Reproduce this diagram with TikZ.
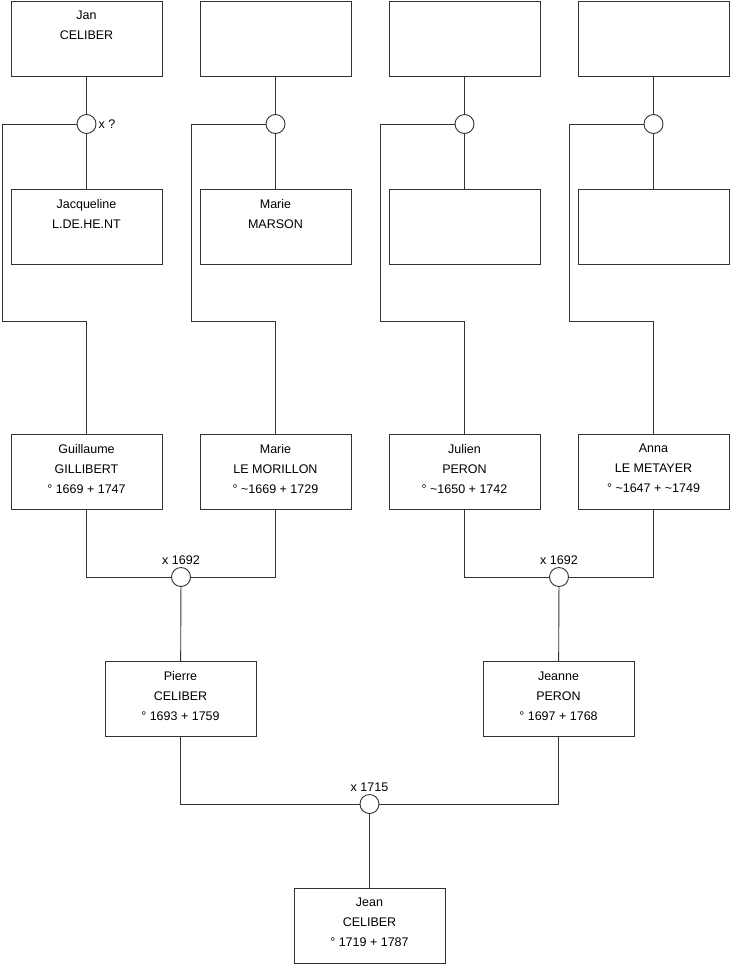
\documentclass[tikz,border=0pt]{standalone}
\usepackage{fontspec}
\setmainfont{Liberation Sans}
\usetikzlibrary{positioning}

\begin{document}
\begin{tikzpicture}[
    x=1pt, y=-1pt,
    person/.style={rectangle, draw=black!80, line width=0.9pt, minimum width=151pt, minimum height=75pt,
        inner sep=0pt, outer sep=0pt, align=center, font=\fontsize{12.5}{20}\selectfont},
    union/.style={circle, draw=black!80, line width=0.9pt, fill=white, minimum size=19pt, inner sep=0pt},
    tag/.style={font=\fontsize{12.5}{14}\selectfont, inner sep=1pt},
    link/.style={draw=black!80, line width=0.9pt}
]
\useasboundingbox (0,0) rectangle (740,975);

% great-grandparents
\node[person] (fa1) at (86.5,38.5) {Jan \\ CELIBER \\ \mbox{}\strut};
\node[person, right=38pt of fa1] (fa2) {\mbox{}};
\node[person, right=38pt of fa2] (fa3) {\mbox{}};
\node[person, right=38pt of fa3] (fa4) {\mbox{}};

\node[person, below=113pt of fa1] (mo1) {Jacqueline \\ L.DE.HE.NT \\ \mbox{}\strut};
\node[person, below=113pt of fa2] (mo2) {Marie \\ MARSON \\ \mbox{}\strut};
\node[person, below=113pt of fa3] (mo3) {\mbox{}};
\node[person, below=113pt of fa4] (mo4) {\mbox{}};

% grandparents
\node[person, below=170pt of mo1] (gp1) {Guillaume \\ GILLIBERT \\ ° 1669 + 1747\strut};
\node[person, below=170pt of mo2] (gp2) {Marie \\ LE MORILLON \\ ° \textasciitilde1669 + 1729\strut};
\node[person, below=170pt of mo3] (gp3) {Julien \\ PERON \\ ° \textasciitilde1650 + 1742\strut};
\node[person, below=170pt of mo4] (gp4) {Anna \\ LE METAYER \\ ° \textasciitilde1647 + \textasciitilde1749\strut};

% parents and child
\node[person] (pierre) at (180.5,699) {Pierre \\ CELIBER \\ ° 1693 + 1759\strut};
\node[person] (jeanne) at (558.5,699) {Jeanne \\ PERON \\ ° 1697 + 1768\strut};
\node[person] (jean) at (369.5,925.5) {Jean \\ CELIBER \\ ° 1719 + 1787\strut};

% unions
\foreach \i in {1,...,4} {
    \node[union] (u\i) at (fa\i |- 0,124) {};
    \coordinate (k\i) at ([xshift=-9pt]mo\i.west |- 0,321);
}
\node[tag, right=1pt of u1] {x ?};
\node[union] (m1) at (181,577) {};
\node[union] (m2) at (559,577) {};
\node[union] (m3) at (369.5,804) {};
\node[tag, above=1pt of m1] {x 1692};
\node[tag, above=1pt of m2] {x 1692};
\node[tag, above=1pt of m3] {x 1715};

% links
\foreach \i in {1,...,4} {
    \draw[link] (fa\i) -- (u\i) -- (mo\i);
    \draw[link] (u\i.west) -| (k\i) -| (gp\i.north);
}
\draw[link] (gp1.south) |- (m1.west);
\draw[link] (gp2.south) |- (m1.east);
\draw[link] (gp3.south) |- (m2.west);
\draw[link] (gp4.south) |- (m2.east);
\draw[link] (m1) -- (pierre);
\draw[link] (m2) -- (jeanne);
\draw[link] (pierre.south) |- (m3.west);
\draw[link] (jeanne.south) |- (m3.east);
\draw[link] (m3) -- (jean);

\end{tikzpicture}
\end{document}
